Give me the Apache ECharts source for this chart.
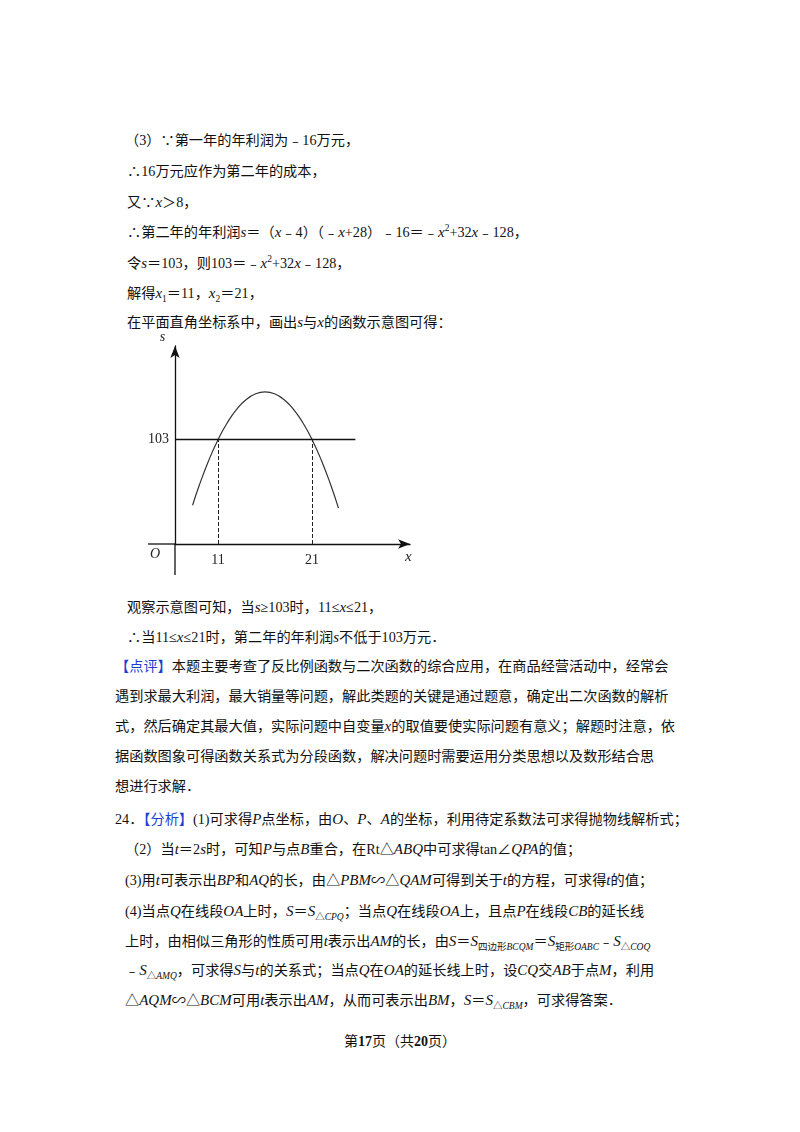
<!DOCTYPE html>
<html><head><meta charset="utf-8">
<script src="https://cdn.jsdelivr.net/npm/echarts@6/dist/echarts.min.js"></script>
<style>
body{margin:0;background:#fff;width:800px;height:1132px;position:relative;overflow:hidden;
 font-family:"Liberation Serif","Noto Sans CJK SC",serif;font-size:14.2px;color:#111;}
.l{position:absolute;white-space:nowrap;line-height:20px;}
i{font-family:"Liberation Serif";font-style:italic;font-size:15px;}
.b{color:#1a3fd0;}
sub,sup{font-size:9.5px;line-height:0;}
sub i,sup i{font-size:9.5px;}
#chart{position:absolute;left:140px;top:330px;width:290px;height:250px;}
</style></head><body>
<div class="l" style="left:125px;top:130px">（3）∵第一年的年利润为﹣16万元，</div>
<div class="l" style="left:127px;top:161px">∴16万元应作为第二年的成本，</div>
<div class="l" style="left:127px;top:192px">又∵<i>x</i>＞8，</div>
<div class="l" style="left:127px;top:222px">∴第二年的年利润<i>s</i>＝（<i>x</i>﹣4）（﹣<i>x</i>+28）﹣16＝﹣<i>x</i><sup>2</sup>+32<i>x</i>﹣128，</div>
<div class="l" style="left:127px;top:253px">令<i>s</i>＝103，则103＝﹣<i>x</i><sup>2</sup>+32<i>x</i>﹣128，</div>
<div class="l" style="left:127px;top:283px">解得<i>x</i><sub>1</sub>＝11，<i>x</i><sub>2</sub>＝21，</div>
<div class="l" style="left:127px;top:312px">在平面直角坐标系中，画出<i>s</i>与<i>x</i>的函数示意图可得：</div>
<div id="chart"></div>
<div class="l" style="left:127px;top:597px">观察示意图可知，当<i>s</i>≥103时，11≤<i>x</i>≤21，</div>
<div class="l" style="left:127px;top:627px">∴当11≤<i>x</i>≤21时，第二年的年利润<i>s</i>不低于103万元．</div>
<div class="l" style="left:115px;top:656px"><span class="b">【点评】</span>本题主要考查了反比例函数与二次函数的综合应用，在商品经营活动中，经常会</div>
<div class="l" style="left:115px;top:686px">遇到求最大利润，最大销量等问题，解此类题的关键是通过题意，确定出二次函数的解析</div>
<div class="l" style="left:115px;top:716px">式，然后确定其最大值，实际问题中自变量<i>x</i>的取值要使实际问题有意义；解题时注意，依</div>
<div class="l" style="left:115px;top:746px">据函数图象可得函数关系式为分段函数，解决问题时需要运用分类思想以及数形结合思</div>
<div class="l" style="left:115px;top:776px">想进行求解．</div>
<div class="l" style="left:115px;top:809px">24．<span class="b">【分析】</span>(1)可求得<i>P</i>点坐标，由<i>O</i>、<i>P</i>、<i>A</i>的坐标，利用待定系数法可求得抛物线解析式；</div>
<div class="l" style="left:125px;top:839px">（2）当<i>t</i>＝2<i>s</i>时，可知<i>P</i>与点<i>B</i>重合，在Rt△<i>ABQ</i>中可求得tan∠<i>QPA</i>的值；</div>
<div class="l" style="left:125px;top:870px">(3)用<i>t</i>可表示出<i>BP</i>和<i>AQ</i>的长，由△<i>PBM</i>∽△<i>QAM</i>可得到关于<i>t</i>的方程，可求得<i>t</i>的值；</div>
<div class="l" style="left:125px;top:901px">(4)当点<i>Q</i>在线段<i>OA</i>上时，<i>S</i>＝<i>S</i><sub>△<i>CPQ</i></sub>；当点<i>Q</i>在线段<i>OA</i>上，且点<i>P</i>在线段<i>CB</i>的延长线</div>
<div class="l" style="left:125px;top:931px">上时，由相似三角形的性质可用<i>t</i>表示出<i>AM</i>的长，由<i>S</i>＝<i>S</i><sub>四边形<i>BCQM</i></sub>＝<i>S</i><sub>矩形<i>OABC</i></sub>﹣<i>S</i><sub>△<i>COQ</i></sub></div>
<div class="l" style="left:125px;top:960px">﹣<i>S</i><sub>△<i>AMQ</i></sub>，可求得<i>S</i>与<i>t</i>的关系式；当点<i>Q</i>在<i>OA</i>的延长线上时，设<i>CQ</i>交<i>AB</i>于点<i>M</i>，利用</div>
<div class="l" style="left:125px;top:990px">△<i>AQM</i>∽△<i>BCM</i>可用<i>t</i>表示出<i>AM</i>，从而可表示出<i>BM</i>，<i>S</i>＝<i>S</i><sub>△<i>CBM</i></sub>，可求得答案．</div>
<div class="l" style="left:0;width:800px;text-align:center;top:1032px;font-size:14px">第<b>17</b>页（共<b>20</b>页）</div>
<script>
// 曲线 s 与 x 的示意点
var xs = [8.3, 9, 10, 11, 12, 13, 14, 15, 16, 17, 18, 19, 20, 21, 22, 23, 23.8];
var ss = [68.7, 79, 92, 103, 112, 119, 124, 127, 128, 127, 124, 119, 112, 103, 92, 79, 67.2];
var xTicks = [11, 21];
var sLevel = 103;
var xOrigin = 6.43, sOrigin = 48.4;

var curve = xs.map(function (x, i) { return [x, ss[i]]; });
var chart = echarts.init(document.getElementById('chart'));
var serif = 'Liberation Serif';
chart.setOption({
    animation: false,
    grid: {left: 35, top: 15, right: 20, bottom: 36},
    xAxis: {
        type: 'value', min: xOrigin, max: 31.4,
        axisLine: {show: true, lineStyle: {color: '#111', width: 1.3}, symbol: ['none', 'arrow'], symbolSize: [7, 12]},
        axisTick: {show: false},
        splitLine: {show: false},
        axisLabel: {customValues: xTicks, fontFamily: serif, fontSize: 14, color: '#222', margin: 9}
    },
    yAxis: {
        type: 'value', min: sOrigin, max: 152,
        name: 's', nameGap: 2,
        nameTextStyle: {fontFamily: serif, fontStyle: 'italic', fontSize: 14, color: '#222', padding: [0, 25, 0, 0]},
        axisLine: {show: true, lineStyle: {color: '#111', width: 1.3}, symbol: ['none', 'arrow'], symbolSize: [7, 12]},
        axisTick: {show: false},
        splitLine: {show: false},
        axisLabel: {customValues: [sLevel], fontFamily: serif, fontSize: 14, color: '#222', margin: 6}
    },
    series: [{
        type: 'line', data: curve, smooth: true, showSymbol: false,
        lineStyle: {color: '#333', width: 1.2},
        markLine: {
            silent: true, symbol: 'none', label: {show: false},
            data: [
                [{coord: [xOrigin, sLevel]}, {coord: [25.6, sLevel]}],
                [{coord: [xTicks[0], sOrigin]}, {coord: [xTicks[0], sLevel]}],
                [{coord: [xTicks[1], sOrigin]}, {coord: [xTicks[1], sLevel]}]
            ].map(function (d, i) {
                d[0].lineStyle = i === 0 ? {color: '#111', width: 1.3, type: 'solid'} : {color: '#222', width: 1, type: [4, 2]};
                return d;
            })
        }
    }],
    graphic: [
        {type: 'line', shape: {x1: 8, y1: 214, x2: 35, y2: 214}, style: {stroke: '#111', lineWidth: 1.3}},
        {type: 'line', shape: {x1: 35, y1: 214, x2: 35, y2: 245}, style: {stroke: '#111', lineWidth: 1.3}},
        {type: 'text', left: 10, top: 217, style: {text: 'O', font: 'italic 14px Liberation Serif', fill: '#222'}},
        {type: 'text', left: 265, top: 220, style: {text: 'x', font: 'italic 15px Liberation Serif', fill: '#222'}}
    ]
});
</script>
</body></html>
